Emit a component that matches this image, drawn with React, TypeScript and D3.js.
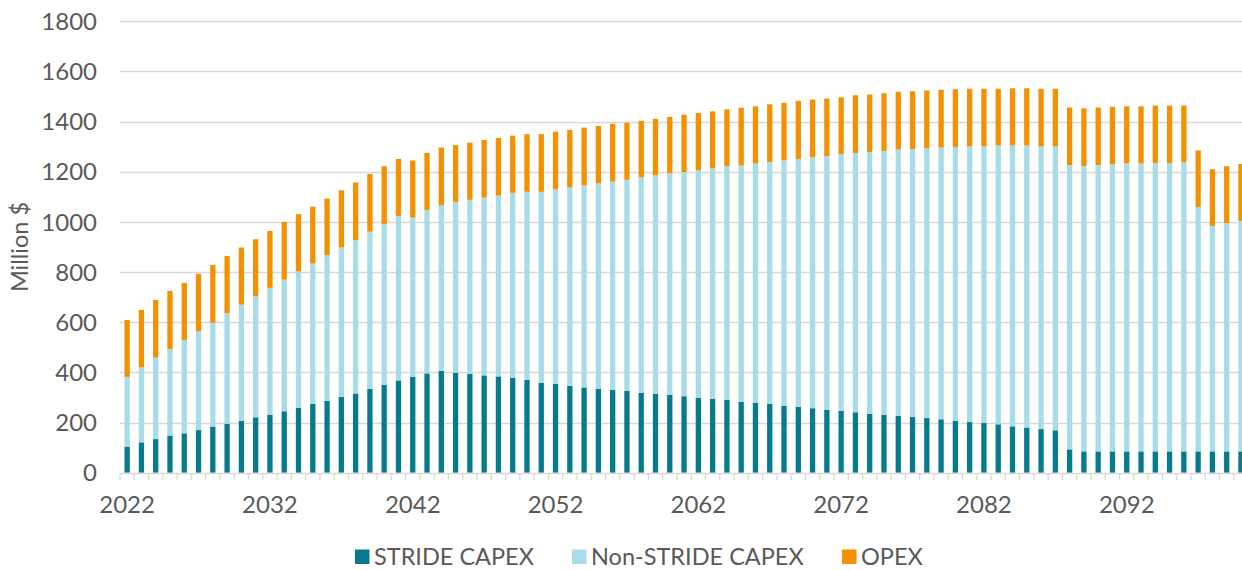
import React, { useEffect, useRef } from "react";
import * as d3 from "d3";

const years: number[] = d3.range(2022, 2101);

const strideCapex: number[] = [
  104, 121, 134, 148, 157, 170, 184, 195, 207, 221,
  230, 245, 259, 274, 286, 302, 316, 334, 350, 368,
  383, 396, 406, 399, 394, 388, 384, 379, 371, 359,
  354, 346, 340, 335, 330, 326, 319, 315, 310, 305,
  299, 294, 290, 283, 279, 274, 266, 262, 257, 250,
  246, 241, 235, 230, 226, 222, 218, 213, 207, 202,
  198, 193, 185, 180, 174, 169, 93, 85, 85, 85,
  85, 85, 85, 85, 85, 85, 85, 85, 85,
];

// cumulative top of Non-STRIDE CAPEX (STRIDE + Non-STRIDE)
const capexTotal: number[] = [
  382, 420, 459, 493, 529, 564, 598, 636, 670, 703,
  737, 770, 803, 834, 867, 898, 928, 961, 992, 1024,
  1017, 1048, 1066, 1080, 1088, 1097, 1105, 1116, 1120, 1120,
  1130, 1138, 1146, 1154, 1161, 1168, 1178, 1186, 1194, 1199,
  1206, 1214, 1222, 1225, 1233, 1239, 1245, 1251, 1258, 1263,
  1271, 1275, 1279, 1283, 1289, 1291, 1294, 1297, 1299, 1301,
  1301, 1305, 1305, 1305, 1301, 1301, 1227, 1223, 1227, 1230,
  1233, 1233, 1235, 1235, 1238, 1059, 984, 995, 1004,
];

const totals: number[] = [
  609, 649, 689, 725, 757, 793, 828, 864, 898, 931,
  964, 1000, 1031, 1061, 1093, 1126, 1157, 1191, 1222, 1251,
  1245, 1275, 1297, 1306, 1316, 1327, 1335, 1344, 1350, 1350,
  1360, 1367, 1376, 1383, 1391, 1396, 1403, 1411, 1419, 1427,
  1434, 1441, 1449, 1455, 1461, 1469, 1475, 1483, 1488, 1492,
  1497, 1505, 1508, 1513, 1519, 1521, 1524, 1527, 1529, 1531,
  1531, 1531, 1533, 1533, 1531, 1531, 1456, 1453, 1456, 1459,
  1461, 1461, 1464, 1464, 1464, 1285, 1210, 1222, 1231,
];

const nonStrideCapex: number[] = capexTotal.map((v, i) => v - strideCapex[i]);
const opex: number[] = totals.map((v, i) => v - capexTotal[i]);

const seriesNames = ["STRIDE CAPEX", "Non-STRIDE CAPEX", "OPEX"];
const seriesColors = ["#077a8d", "#a8dce7", "#f29102"];
const yTicks = [0, 200, 400, 600, 800, 1000, 1200, 1400, 1600, 1800];
const xLabelYears = [2022, 2032, 2042, 2052, 2062, 2072, 2082, 2092];

const W = 1242;
const H = 570;

export default function App() {
  const ref = useRef<SVGSVGElement>(null);

  useEffect(() => {
    const svg = d3.select(ref.current);
    svg.selectAll("*").remove();

    const left = 120;
    const step = 14.28;
    const x = d3
      .scaleBand<number>()
      .domain(years)
      .range([left, left + step * years.length])
      .paddingInner(0.63)
      .paddingOuter(0.315);
    const y = d3.scaleLinear().domain([0, 1800]).range([472.7, 21.3]);

    const font = "Lato, 'Open Sans', sans-serif";
    const textColor = "#595959";

    // gridlines
    svg
      .append("g")
      .selectAll("line")
      .data(yTicks.filter((t) => t > 0))
      .join("line")
      .attr("x1", left)
      .attr("x2", W)
      .attr("y1", (d) => Math.round(y(d)) + 0.5)
      .attr("y2", (d) => Math.round(y(d)) + 0.5)
      .attr("stroke", "#d9d9d9")
      .attr("stroke-width", 1.3);

    // stacked data
    const rows = years.map((yr, i) => ({
      year: yr,
      "STRIDE CAPEX": strideCapex[i],
      "Non-STRIDE CAPEX": nonStrideCapex[i],
      OPEX: opex[i],
    }));
    const stack = d3.stack<any>().keys(seriesNames);
    const stacked = stack(rows);

    const bw = step * 0.37;
    svg
      .append("g")
      .selectAll("g")
      .data(stacked)
      .join("g")
      .attr("fill", (_d, i) => seriesColors[i])
      .selectAll("rect")
      .data((d) => d)
      .join("rect")
      .attr("x", (d: any) => x(d.data.year)! + x.bandwidth() / 2 - bw / 2)
      .attr("width", bw)
      .attr("y", (d) => y(d[1]))
      .attr("height", (d) => y(d[0]) - y(d[1]));

    // x axis line
    const axisY = Math.round(y(0)) + 0.5;
    svg
      .append("line")
      .attr("x1", left)
      .attr("x2", W)
      .attr("y1", axisY)
      .attr("y2", axisY)
      .attr("stroke", "#d9d9d9")
      .attr("stroke-width", 1.3);

    // tick marks at category boundaries
    svg
      .append("g")
      .selectAll("line")
      .data(d3.range(0, years.length + 1))
      .join("line")
      .attr("x1", (i) => left + i * step)
      .attr("x2", (i) => left + i * step)
      .attr("y1", axisY)
      .attr("y2", axisY + 7)
      .attr("stroke", "#d9d9d9")
      .attr("stroke-width", 1.3);

    // x labels
    svg
      .append("g")
      .selectAll("text")
      .data(xLabelYears)
      .join("text")
      .attr("x", (d) => x(d)! + x.bandwidth() / 2)
      .attr("y", 513)
      .attr("text-anchor", "middle")
      .attr("font-family", font)
      .attr("font-size", 24)
      .attr("fill", textColor)
      .text((d) => String(d));

    // y labels
    svg
      .append("g")
      .selectAll("text")
      .data(yTicks)
      .join("text")
      .attr("x", 97)
      .attr("y", (d) => y(d))
      .attr("dy", "0.36em")
      .attr("text-anchor", "end")
      .attr("font-family", font)
      .attr("font-size", 24)
      .attr("fill", textColor)
      .text((d) => String(d));

    // y title
    svg
      .append("text")
      .attr("transform", `translate(28,${y(900)}) rotate(-90)`)
      .attr("text-anchor", "middle")
      .attr("font-family", font)
      .attr("font-size", 23.5)
      .attr("fill", textColor)
      .text("Million $");

    // legend
    const legendX = [355, 572, 842];
    const lg = svg
      .append("g")
      .selectAll("g")
      .data(seriesNames)
      .join("g")
      .attr("transform", (_d, i) => `translate(${legendX[i]},0)`);
    lg.append("rect")
      .attr("x", 0)
      .attr("y", 549.5)
      .attr("width", 14.5)
      .attr("height", 14.5)
      .attr("fill", (_d, i) => seriesColors[i]);
    lg.append("text")
      .attr("x", 19)
      .attr("y", 565)
      .attr("font-family", font)
      .attr("font-size", 23.5)
      .attr("fill", textColor)
      .text((d) => d);
  }, []);

  return (
    <div style={{ position: "absolute", left: 0, top: 0 }}>
      <svg ref={ref} width={W} height={H} style={{ display: "block", background: "#fff" }} />
    </div>
  );
}
